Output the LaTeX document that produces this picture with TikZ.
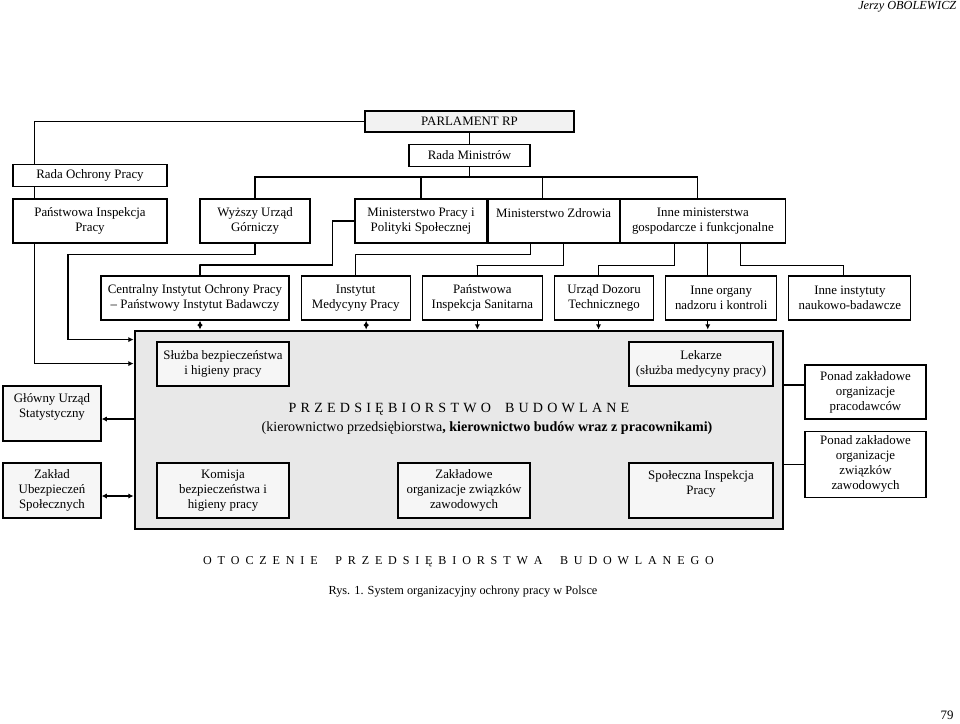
\documentclass[tikz,border=0pt]{standalone}
\usepackage{fontspec}
\setmainfont{Liberation Serif}
\usetikzlibrary{arrows.meta,positioning}
\definecolor{parlgray}{HTML}{F2F2F2}
\definecolor{entgray}{HTML}{E8E8E8}
\definecolor{pale}{HTML}{F6F6F6}

\begin{document}
\begin{tikzpicture}[x=0.3mm,y=-0.3mm,node distance=3.3mm,>={Latex[length=1.6mm,width=1.6mm]},
font=\fontsize{11}{12.8}\selectfont,line width=0.9pt,
box/.style={draw,line width=1pt,fill=white,align=center,inner sep=1pt,minimum height=13.2mm},
inbox/.style={box,fill=pale},
sidebox/.style={box,fill=pale,minimum width=29.4mm,minimum height=16.5mm}]
\useasboundingbox (0,0) rectangle (960,723);
% szczebel centralny
\node[box,fill=parlgray,minimum width=62.7mm,minimum height=6.3mm] (parl) at (469.5,121.5) {PARLAMENT RP};
\node[box,below=of parl,minimum width=36.3mm,minimum height=6.6mm] (rada) {Rada Ministrów};
\node[box,minimum width=46.2mm] (pip) at (90,221) {Państwowa Inspekcja\\Pracy};
\node[box,above=of pip,minimum width=46.2mm,minimum height=6.6mm] (rop) {Rada Ochrony Pracy};
\node[box,minimum width=33mm] (wug) at (255,221) {Wyższy Urząd\\Górniczy};
\node[box,minimum width=39.6mm] (mpips) at (421,221) {Ministerstwo Pracy i\\Polityki Społecznej};
\node[box,right=0pt of mpips,minimum width=39.3mm] (mz) {Ministerstwo Zdrowia\\\mbox{}};
\node[box,right=0pt of mz,minimum width=49.5mm] (inm) {Inne ministerstwa\\gospodarcze i funkcjonalne};
% instytuty i organy nadzoru
\node[box,minimum width=56.4mm] (ciop) at (195,298) {Centralny Instytut Ochrony Pracy\\– Państwowy Instytut Badawczy};
\node[box,right=of ciop,minimum width=32.7mm] (imp) {Instytut\\Medycyny Pracy};
\node[box,right=of imp,minimum width=36mm] (pis) {Państwowa\\Inspekcja Sanitarna};
\node[box,right=of pis,minimum width=29.7mm] (udt) {Urząd Dozoru\\Technicznego};
\node[box,right=of udt,minimum width=33.3mm] (ino) {Inne organy\\nadzoru i kontroli};
\node[box,right=of ino,minimum width=36.6mm] (ini) {Inne instytuty\\naukowo-badawcze};
% przedsiebiorstwo
\node[draw,line width=2.4pt,fill=entgray,minimum width=194.4mm,minimum height=59.4mm] (ent) at (459,430) {};
\node[font=\fontsize{12}{14}\selectfont] (entname) at (459,409) {\spaceskip=3.6pt P R Z E D S I Ę B I O R S T W O\hspace{12pt}B U D O W L A N E};
\node[font=\fontsize{12}{14}\selectfont] (entsub) at (487,428) {(kierownictwo przedsiębiorstwa\textbf{, kierownictwo budów wraz z pracownikami)}};
\node[inbox,minimum width=39.6mm] (bhp) at (223,364) {Służba bezpieczeństwa\\i higieny pracy};
\node[inbox,minimum width=43.2mm] (lek) at (701,364) {Lekarze\\(służba medycyny pracy)};
\node[inbox,minimum width=39.6mm,minimum height=16.5mm] (kom) at (223,490.5) {Komisja\\bezpieczeństwa i\\higieny pracy};
\node[inbox,minimum width=39.6mm,minimum height=16.5mm] (zoz) at (464,490.5) {Zakładowe\\organizacje związków\\zawodowych};
\node[inbox,minimum width=43.2mm,minimum height=16.5mm] (sip) at (701,490.5) {Społeczna Inspekcja\\Pracy\\\mbox{}};
% otoczenie
\node[sidebox] (gus) at (52,413.5) {Główny Urząd\\Statystyczny\\\mbox{}};
\node[sidebox] (zus) at (52,490.5) {Zakład\\Ubezpieczeń\\Społecznych};
\node[box,minimum width=36.3mm,minimum height=16.2mm] (ppr) at (865.5,392) {Ponad zakładowe\\organizacje\\pracodawców};
\node[box,below=of ppr,minimum width=36.3mm,minimum height=19.8mm] (pzz) {Ponad zakładowe\\organizacje\\związków\\zawodowych};
% polaczenia
\draw (parl.west) -| ([xshift=6.6mm]rop.north west);
\draw ([xshift=6.6mm]rop.south west) -- ([xshift=6.6mm]pip.north west);
\draw (parl) -- (rada);
\coordinate (bus) at (469.5,177);
\draw (rada) -- (bus);
\draw (wug.north) |- (bus) -| ([xshift=-1.65mm]inm.north);
\draw (mpips.north) -- (mpips.north |- bus);
\draw ([xshift=-3.45mm]mz.north) -- ([xshift=-3.45mm]mz.north |- bus);
\draw (mpips.west) -- ++(-22,0) |- ++(-133,44) -| ([xshift=1.5mm]ciop.north);
\draw ([xshift=12.9mm]mz.south west) |- ++(-175,11) -| (imp.north);
\draw ([xshift=22.8mm]mz.south west) |- ++(-87,22) -| ([xshift=-1.5mm]pis.north);
\draw ([xshift=16.5mm]inm.south west) |- ++(-76,22) -| ([xshift=-1.65mm]udt.north);
\draw ([xshift=26.4mm]inm.south west) -- ([xshift=26.4mm]inm.south west |- ino.north);
\draw ([xshift=36.3mm]inm.south west) |- ++(99,22) -| ([xshift=-1.8mm]ini.north);
\draw[->] ([xshift=6.6mm]pip.south west) |- ([yshift=-10.2mm]ent.north west);
\draw[->] (wug.south) |- ++(-187,11) |- ([yshift=-3mm]ent.north west);
\draw[<->] ([xshift=1.5mm]ciop.south) -- ([xshift=1.5mm]ciop.south |- ent.north);
\draw[<->] ([xshift=3.15mm]imp.south) -- ([xshift=3.15mm]imp.south |- ent.north);
\draw[->] ([xshift=-1.5mm]pis.south) -- ([xshift=-1.5mm]pis.south |- ent.north);
\draw[->] ([xshift=-1.65mm]udt.south) -- ([xshift=-1.65mm]udt.south |- ent.north);
\draw[->] ([xshift=26.4mm]inm.south west |- ino.south) -- ([xshift=26.4mm]inm.south west |- ent.north);
\draw[->] ([yshift=-1.65mm]ent.west |- gus.east) -- ([yshift=-1.65mm]gus.east);
\draw[<->] ([yshift=-1.65mm]zus.east) -- ([yshift=-1.65mm]ent.west |- zus.east);
\draw ([yshift=2.1mm]ent.east |- ppr.west) -- ([yshift=2.1mm]ppr.west);
\draw (ent.east |- pzz.west) -- (pzz.west);
% podpisy
\node[font=\fontsize{10.3}{12}\selectfont] (otocz) at (458.5,562) {\spaceskip=5pt O T O C Z E N I E\hspace{15pt}P R Z E D S I Ę B I O R S T W A\hspace{15pt}B U D O W L A N E G O};
\node[font=\fontsize{10.5}{12}\selectfont] (rys) at (463,592) {Rys. 1. System organizacyjny ochrony pracy w Polsce};
\node[anchor=north east,inner sep=1pt,font=\fontsize{10.5}{12}\selectfont\itshape] (autor) at (958,0) {Jerzy OBOLEWICZ};
\node[anchor=east,font=\fontsize{11}{12}\selectfont] (strona) at (958,715) {79};
\end{tikzpicture}
\end{document}
